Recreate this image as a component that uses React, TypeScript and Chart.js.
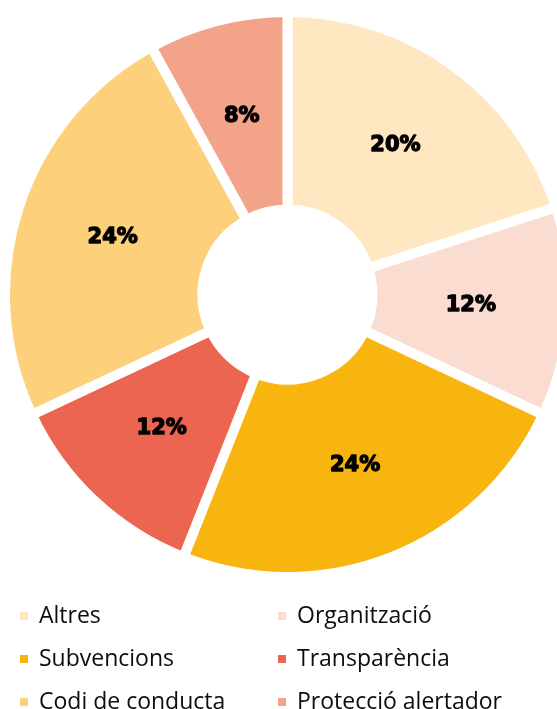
import React, { useEffect, useRef } from "react";
import { Chart, registerables } from "chart.js";

Chart.register(...registerables);

const categories = [
  "Altres",
  "Organització",
  "Subvencions",
  "Transparència",
  "Codi de conducta",
  "Protecció alertador",
];
const percentages = [20, 12, 24, 12, 24, 8];
const sliceColors = ["#FFE7C1", "#FADCD1", "#F8B50F", "#EC6550", "#FDD17B", "#F4A38B"];

const sliceLabelPlugin = {
  id: "sliceLabels",
  afterDatasetsDraw(chart: any) {
    const ctx = chart.ctx;
    const meta = chart.getDatasetMeta(0);
    const values = chart.data.datasets[0].data;
    ctx.save();
    ctx.font = "bold 21px 'DejaVu Sans'";
    ctx.fillStyle = "#000000";
    ctx.strokeStyle = "#000000";
    ctx.lineWidth = 1.3;
    ctx.lineJoin = "round";
    ctx.textAlign = "center";
    ctx.textBaseline = "middle";
    meta.data.forEach((arc: any, i: number) => {
      const p = arc.getCenterPoint();
      const t = values[i] + "%";
      ctx.fillText(t, p.x, p.y);
      ctx.strokeText(t, p.x, p.y);
    });
    ctx.restore();
  },
};

const gridLegendPlugin = {
  id: "gridLegend",
  afterDraw(chart: any) {
    const ctx = chart.ctx;
    const labels = chart.data.labels;
    const colors = chart.data.datasets[0].backgroundColor;
    const colX = [20, 278];
    const rowY = [616, 659, 702];
    ctx.save();
    ctx.font = "23px 'Open Sans'";
    ctx.textAlign = "left";
    ctx.textBaseline = "alphabetic";
    labels.forEach((lab: string, i: number) => {
      const c = i % 2;
      const r = Math.floor(i / 2);
      const x = colX[c];
      const y = rowY[r];
      ctx.fillStyle = colors[i];
      ctx.fillRect(x, y - 4, 8, 8);
      ctx.fillStyle = "#0d0d0d";
      ctx.fillText(lab, x + 19, y + 7);
    });
    ctx.restore();
  },
};

export default function App() {
  const canvasRef = useRef<HTMLCanvasElement | null>(null);

  useEffect(() => {
    if (!canvasRef.current) return;
    const chart = new Chart(canvasRef.current, {
      type: "doughnut",
      data: {
        labels: categories,
        datasets: [
          {
            data: percentages,
            backgroundColor: sliceColors,
            borderColor: "#ffffff",
            borderWidth: 10,
            hoverOffset: 0,
          },
        ],
      },
      options: {
        responsive: false,
        animation: false,
        cutout: 85,
        layout: { padding: { top: 7, bottom: 127, left: 0, right: 0 } },
        plugins: {
          legend: { display: false },
          tooltip: { enabled: false },
        },
      },
      plugins: [sliceLabelPlugin, gridLegendPlugin],
    });
    return () => chart.destroy();
  }, []);

  return (
    <div
      style={{
        position: "absolute",
        left: 0,
        top: 0,
        width: 557,
        height: 709,
        overflow: "hidden",
        background: "#ffffff",
      }}
    >
      <canvas
        ref={canvasRef}
        width={575}
        height={709}
        style={{ position: "absolute", left: 0, top: 0, width: 575, height: 709 }}
      />
    </div>
  );
}
